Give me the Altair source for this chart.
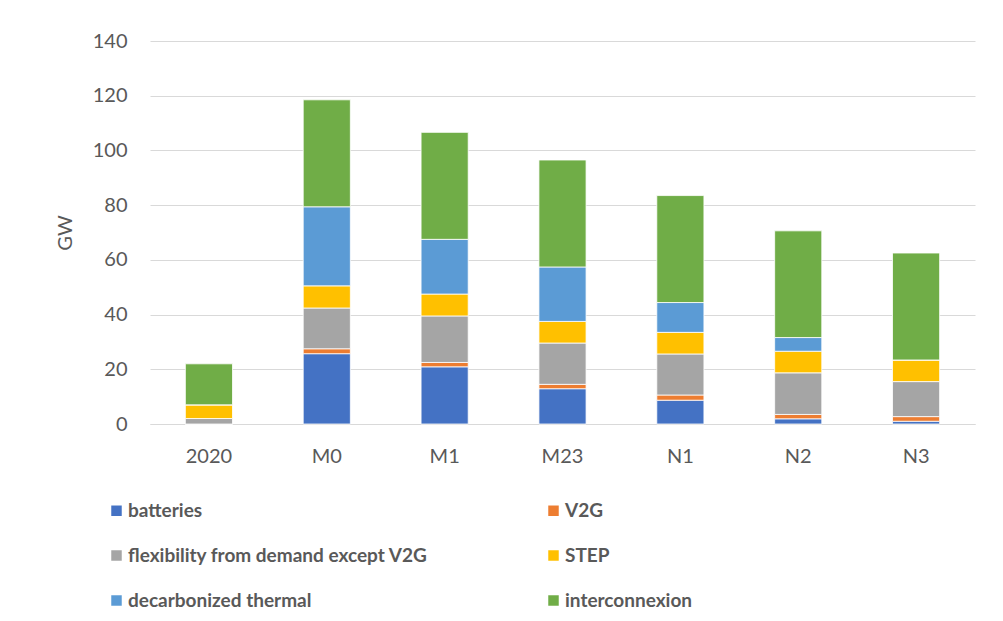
import altair as alt
import pandas as pd

scenarios = ["2020", "M0", "M1", "M23", "N1", "N2", "N3"]
series = ["batteries", "V2G", "flexibility from demand except V2G", "STEP",
          "decarbonized thermal", "interconnexion"]
colors = ["#4472C4", "#ED7D31", "#A5A5A5", "#FFC000", "#5B9BD5", "#70AD47"]

batteries = [0, 25.7, 20.9, 12.9, 8.7, 1.9, 1.0]
v2g = [0, 1.8, 1.6, 1.6, 1.9, 1.6, 1.7]
flexibility = [2.0, 14.9, 17.0, 15.1, 15.0, 15.2, 12.8]
step = [5.0, 8.1, 8.0, 7.9, 7.9, 7.9, 7.9]
thermal = [0, 28.9, 20.0, 19.9, 10.9, 5.0, 0]
interconnexion = [15.0, 39.1, 39.1, 39.1, 39.1, 39.0, 39.1]

values = [batteries, v2g, flexibility, step, thermal, interconnexion]
rows = []
for si, (name, vals) in enumerate(zip(series, values)):
    for sc, v in zip(scenarios, vals):
        rows.append({"scenario": sc, "series": name, "value": v, "idx": si})
df = pd.DataFrame(rows)

# legend is laid out column by column: reorder so it reads row by row
legend_order = [0, 2, 4, 1, 3, 5]
leg_domain = [series[i] for i in legend_order]
leg_range = [colors[i] for i in legend_order]

FONT = "Lato"
TXT = "#595959"

chart = alt.Chart(df).mark_bar(stroke="white", strokeWidth=0.8).encode(
    x=alt.X("scenario:N", sort=scenarios, title=None,
            scale=alt.Scale(paddingInner=0.6, paddingOuter=0.3),
            axis=alt.Axis(labelAngle=0, labelFontSize=20, labelColor=TXT, labelFont=FONT,
                          ticks=False, domainColor="#D9D9D9", labelPadding=22)),
    y=alt.Y("value:Q", stack="zero", title="GW",
            scale=alt.Scale(domain=[0, 140], nice=False),
            axis=alt.Axis(values=[0, 20, 40, 60, 80, 100, 120, 140], domain=False, ticks=False,
                          labelFontSize=20, labelColor=TXT, labelFont=FONT, labelPadding=23,
                          titleFontSize=20, titleColor=TXT, titleFont=FONT,
                          titleFontWeight="normal", titlePadding=17,
                          gridColor="#D9D9D9", gridWidth=1.2)),
    color=alt.Color("series:N",
                    scale=alt.Scale(domain=leg_domain, range=leg_range),
                    legend=alt.Legend(title=None, orient="none", legendX=-43, legendY=460,
                                      columns=2, columnPadding=116, rowPadding=25,
                                      symbolType="square", symbolSize=110,
                                      symbolStrokeWidth=0, labelOffset=2,
                                      labelFontSize=19, labelFont=FONT, labelFontWeight="bold",
                                      labelColor=TXT, labelLimit=400)),
    order=alt.Order("idx:Q", sort="ascending"),
).properties(
    width=825, height=383,
    autosize=alt.AutoSizeParams(type="none"),
    padding={"left": 142, "top": 33, "right": 20, "bottom": 189},
).configure_view(stroke=None)

chart.save("out.html", embed_options={"renderer": "svg", "actions": False})
